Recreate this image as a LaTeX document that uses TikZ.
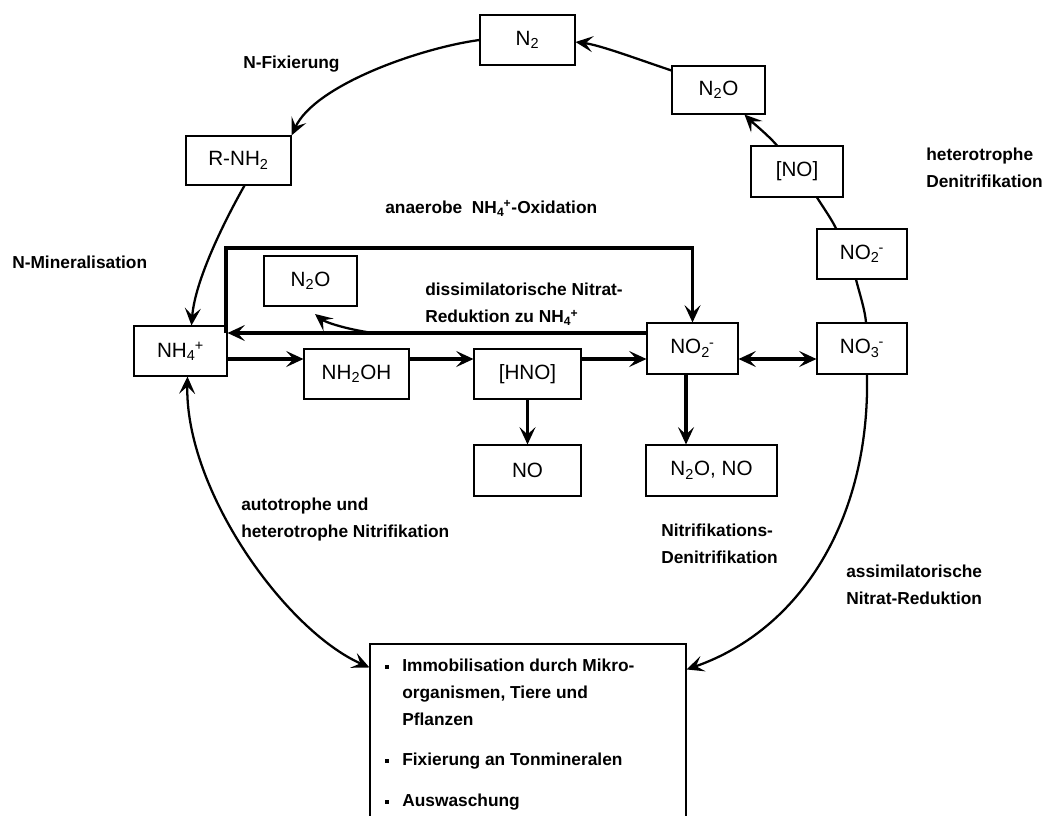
\documentclass[tikz,border=0pt]{standalone}
\usepackage{fontspec}
\setmainfont{Liberation Sans}
\usetikzlibrary{arrows.meta,calc}

% charge written after the subscript, slightly tucked in
\newcommand{\ionsub}[2]{\textsubscript{#1}\kern-0.04em\textsuperscript{#2}}

\tikzset{
  species/.style={draw,line width=0.8pt,inner sep=0pt,
    font=\fontsize{15.5}{18}\selectfont},
  spbox/.style 2 args={species,minimum width=#1*0.75pt,minimum height=#2*0.75pt},
  lbl/.style={anchor=north west,inner sep=0pt,align=left,
    font=\fontsize{13}{20.25}\selectfont\bfseries},
  cyc/.style={line width=1.7pt},
  flow/.style={line width=2.4pt},
  sq/.style={fill,minimum size=3pt,inner sep=0pt}
}

\begin{document}
\begin{tikzpicture}[x=0.75pt,y=-0.75pt,
  >={Stealth[length=13pt,width=12pt,inset=5.5pt]}]
\useasboundingbox (0,0) rectangle (1048,815);
\clip (0,0) rectangle (1048,815);

% species
\node[spbox={95}{50}]  (N2)    at (527.5,40)   {N\textsubscript{2}};
\node[spbox={93}{48}]  (N2Oa)  at (718.5,90)   {N\textsubscript{2}O};
\node[spbox={92}{51}]  (NOa)   at (797,171.5)  {[NO]};
\node[spbox={90}{50}]  (NO2a)  at (862,254)    {NO\ionsub{2}{-}};
\node[spbox={90}{51}]  (NO3)   at (862,348.5)  {NO\ionsub{3}{-}};
\node[spbox={91}{51}]  (NO2b)  at (692.5,348.5){NO\ionsub{2}{-}};
\node[spbox={107}{50}] (HNO)   at (527.5,374)  {[HNO]};
\node[spbox={105}{50}] (NH2OH) at (356.5,374)  {NH\textsubscript{2}OH};
\node[spbox={93}{50}]  (NH4)   at (180.5,351)  {NH\ionsub{4}{+}};
\node[spbox={105}{49}] (RNH2)  at (238.5,160.5){R-NH\textsubscript{2}};
\node[spbox={93}{50}]  (N2Ob)  at (310.5,281)  {N\textsubscript{2}O};
\node[spbox={107}{51}] (NO)    at (527.5,470.5){NO};
\node[spbox={131}{51}] (N2ONO) at (711.5,470.5){N\textsubscript{2}O, NO};
\node[spbox={316}{186}] (pool) at (528,737) {};

% process labels
\node[lbl] (tFix)  at (243,56)  {N-Fixierung};
\node[lbl] (tMin)  at (12,256)  {N-Mineralisation};
\node[lbl] (tAnam) at (385,200) {anaerobe\ \ NH\ionsub{4}{+}-Oxidation};
\node[lbl] (tDnra) at (425,283) {dissimilatorische Nitrat-\\Reduktion zu NH\ionsub{4}{+}};
\node[lbl] (tDen)  at (926,148) {heterotrophe\\Denitrifikation};
\node[lbl] (tNit)  at (241,498) {autotrophe und\\heterotrophe Nitrifikation};
\node[lbl] (tND)   at (661,524) {Nitrifikations-\\Denitrifikation};
\node[lbl] (tAss)  at (846,565) {assimilatorische\\Nitrat-Reduktion};

% sink list
\node[sq] (bA) at (387,667) {};
\node[sq] (bB) at (387,761) {};
\node[sq] (bC) at (387,802) {};
\node[lbl] (iA) at (402,659) {Immobilisation durch Mikro-\\organismen, Tiere und\\Pflanzen};
\node[lbl] (iB) at (402,753) {Fixierung an Tonmineralen};
\node[lbl] (iC) at (402,794) {Auswaschung};

% helper coordinates
\coordinate (cA) at (226,333);
\coordinate (cB) at (226,248);
\coordinate (cC) at (NO2b.north |- cB);
\coordinate (cD) at (373,333);
\coordinate (cE) at (315,314);
\coordinate (yL) at (0,359);
\coordinate (xN) at (686,0);

% anammox loop and DNRA
\draw[flow,->] (cA) -- (cB) -- (cC) -- (NO2b.north);
\draw[flow,->] (NO2b.west |- cA) -- (NH4.east |- cA);
\draw[cyc,->] (cD) .. controls (345,329) and (325,322) .. (cE);

% nitrification chain
\draw[flow,->]  (NH4.east |- yL)   -- (NH2OH.west |- yL);
\draw[flow,->]  (NH2OH.east |- yL) -- (HNO.west |- yL);
\draw[flow,->]  (HNO.east |- yL)   -- (NO2b.west |- yL);
\draw[flow,<->] (NO2b.east |- yL)  -- (NO3.west |- yL);
\draw[flow,->]  (HNO) -- (NO);
\draw[flow,->]  (NO2b.south -| xN) -- (N2ONO.north -| xN);

% outer cycle
\draw[cyc,->] (N2.west) .. controls (420,48) and (315,85) .. (RNH2.north east);
\draw[cyc,->] ($(RNH2.south)+(6,0)$) .. controls (225,220) and (195,280) .. ($(NH4.north)+(11,0)$);
\draw[cyc,<->] ($(NH4.south)+(7,0)$) .. controls (185,490) and (285,630) .. ($(pool.north west)+(0,24)$);
\draw[cyc,->] ($(NO3.south)+(5,0)$) .. controls (870,520) and (800,630) .. ($(pool.north east)+(0,26)$);
\draw[cyc,->] ($(N2Oa.north west)+(0,5)$) .. controls (640,60) and (600,45) .. ($(N2.east)+(0,2)$);
\draw[cyc,->] ($(NOa.north)+(-20,0)$) .. controls (768,135) and (752,122) .. ($(N2Oa.south)+(26,0)$);
\draw[cyc] ($(NOa.south)+(20,0)$) .. controls (825,210) and (832,220) .. ($(NO2a.north)+(-26,0)$);
\draw[cyc] ($(NO2a.south)+(-6,0)$) .. controls (860,295) and (865,310) .. ($(NO3.north)+(4,0)$);
\end{tikzpicture}
\end{document}
